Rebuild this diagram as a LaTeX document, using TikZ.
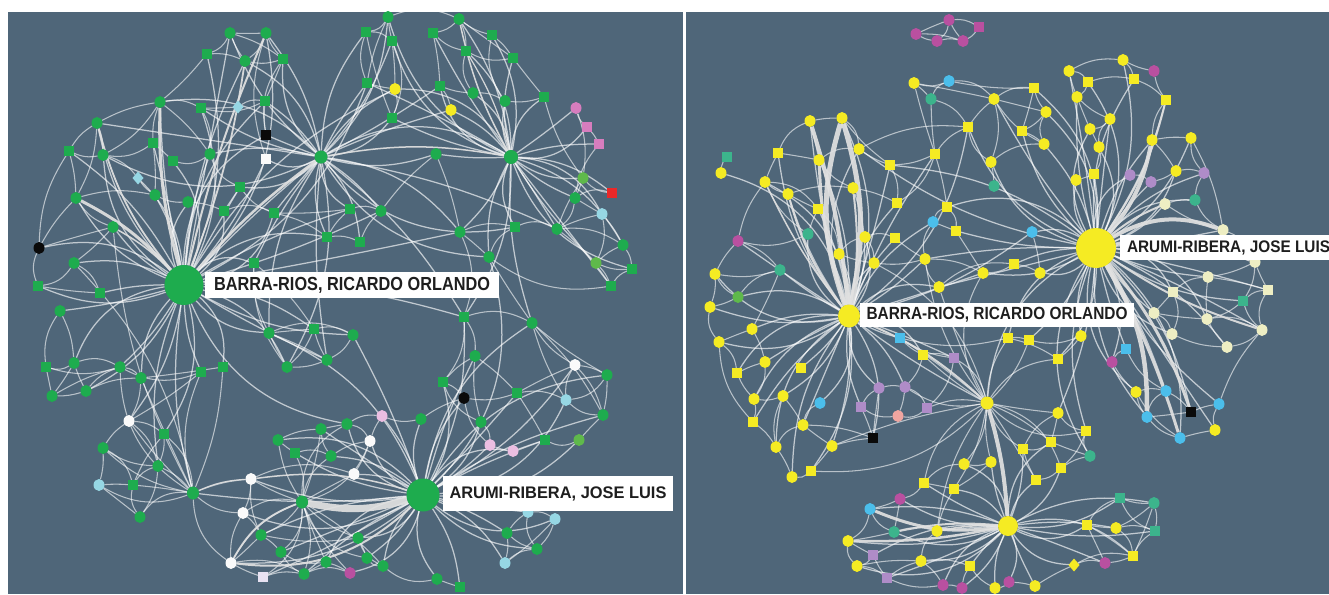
\documentclass[tikz,border=0pt]{standalone}
\usepackage{fontspec}
\usepackage{graphicx}
\newfontfamily\labfont{Liberation Sans}
\usetikzlibrary{shapes.geometric}
\definecolor{bgc}{RGB}{79,102,121}
\definecolor{Gn}{RGB}{30,172,78}
\definecolor{LGn}{RGB}{95,185,75}
\definecolor{Yl}{RGB}{245,235,35}
\definecolor{Mg}{RGB}{185,80,160}
\definecolor{Lv}{RGB}{175,140,200}
\definecolor{Cy}{RGB}{75,190,235}
\definecolor{PCy}{RGB}{150,215,228}
\definecolor{Tl}{RGB}{60,180,140}
\definecolor{Pl}{RGB}{238,238,195}
\definecolor{Pk}{RGB}{215,125,190}
\definecolor{LPk}{RGB}{235,190,225}
\definecolor{Rd}{RGB}{235,40,40}
\definecolor{Sl}{RGB}{240,165,160}
\definecolor{Wt}{RGB}{250,250,250}
\definecolor{Bk}{RGB}{10,10,10}
\definecolor{thickc}{RGB}{225,225,225}
\definecolor{txt}{RGB}{30,30,30}
\pgfdeclarelayer{back}
\pgfdeclarelayer{edges}
\pgfsetlayers{back,edges,main}
\tikzset{
  nd/.style={inner sep=0pt, outer sep=0pt, draw=none},
  ci/.style={nd, ellipse, minimum width=11pt, minimum height=12pt},
  sq/.style={nd, rectangle, minimum width=9.5pt, minimum height=9.5pt},
  dm/.style={nd, diamond, minimum width=11pt, minimum height=13pt},
  ngc/.style={ci, fill=Gn}, ngs/.style={sq, fill=Gn}, nlg/.style={ci, fill=LGn},
  nyc/.style={ci, fill=Yl}, nys/.style={sq, fill=Yl}, nyd/.style={dm, fill=Yl},
  nmc/.style={ci, fill=Mg}, nms/.style={sq, fill=Mg},
  nlc/.style={ci, fill=Lv}, nls/.style={sq, fill=Lv},
  ncc/.style={ci, fill=Cy}, ncs/.style={sq, fill=Cy},
  npcc/.style={ci, fill=PCy}, npcd/.style={dm, fill=PCy},
  ntc/.style={ci, fill=Tl}, nts/.style={sq, fill=Tl},
  nplc/.style={ci, fill=Pl}, npls/.style={sq, fill=Pl},
  npkc/.style={ci, fill=Pk}, npks/.style={sq, fill=Pk},
  nlpk/.style={ci, fill=LPk},
  nrs/.style={sq, fill=Rd}, nsc/.style={ci, fill=Sl},
  nwc/.style={ci, fill=Wt}, nws/.style={sq, fill=Wt}, nwl/.style={sq, fill={rgb,255:red,232;green,226;blue,242}},
  nkc/.style={ci, fill=Bk}, nks/.style={sq, fill=Bk},
  hub/.style={nd, ellipse},
  lnk/.style={draw=white, draw opacity=0.6, line width=1.05pt},
  lnkh/.style={draw=white, draw opacity=0.65, line width=1.25pt},
  thk/.style={draw=thickc, draw opacity=0.92, line width=#1},
  lab/.style={nd, fill=white, anchor=west, text=txt, font=\labfont\bfseries},
}
\newcommand\myfan[3]{\foreach \tg [count=\k] in {#3}{\pgfmathtruncatemacro\bb{mod(\k*37,64)-32}\draw[#2] (#1) to[bend left=\bb] (\tg);}}
\newcommand\mypairs[2]{\foreach \pa/\pb [count=\k] in {#2}{\pgfmathtruncatemacro\bb{mod(\k*23,50)-25}\draw[#1] (\pa) to[bend left=\bb] (\pb);}}
\begin{document}
\begin{tikzpicture}[x=1pt,y=-1pt]
\useasboundingbox (0,0) rectangle (1329,594);
\begin{pgfonlayer}{back}
\fill[white] (0,0) rectangle (1329,594);
\fill[bgc] (8,12) rectangle (683,594);
\fill[bgc] (685.5,12) rectangle (1329,594);
\end{pgfonlayer}
% ---------- left panel nodes ----------
\foreach \n/\x/\y/\s in {
p1/388/17/ngc, p2/366/32/ngs, p3/392/41/ngs, p4/459/19/ngc, p5/433/33/ngs, p6/492/35/ngs, p7/466/51/ngs, p8/513/58/ngs,
p9/230/33/ngc, p10/266/33/ngc, p11/207/54/ngs, p12/245/61/ngc, p13/283/59/ngs, p14/367/83/ngs, p15/395/89/nyc, p16/440/86/ngs,
p17/473/93/ngc, p18/505/101/ngc, p19/451/110/nyc, p20/392/118/ngs, p21/544/97/ngs, p22/576/108/npkc, p23/587/127/npks, p24/599/144/npks,
p25/160/102/ngc, p26/201/108/ngs, p27/238/107/npcd, p28/265/101/ngs, p29/97/123/ngc, p30/266/135/nks, p31/266/159/nws, p32/69/151/ngs,
p33/103/155/ngc, p34/153/143/ngs, p35/173/161/ngs, p36/210/154/ngc, p37/436/154/ngc, p38/138/178/npcd, p39/76/198/ngc, p40/155/195/ngc,
p41/188/202/ngc, p42/240/187/ngs, p43/224/211/ngs, p44/274/213/ngs, p45/350/209/ngs, p46/381/211/ngc, p47/327/237/ngs, p48/360/242/ngs,
p49/583/178/nlg, p50/612/193/nrs, p51/575/198/ngc, p52/602/214/npcc, p53/557/229/ngc, p54/460/232/ngc, p55/515/227/ngs, p56/489/257/ngc,
p57/623/245/ngc, p58/596/263/nlg, p59/632/269/ngs, p60/611/286/ngs, p61/39/248/nkc, p62/113/227/ngc, p63/74/263/ngc, p64/38/286/ngs,
p65/100/293/ngs, p66/254/263/ngs, p67/60/311/ngc, p68/269/333/ngc, p69/314/329/ngs, p70/353/335/ngc, p71/287/367/ngc, p72/327/360/ngc,
p73/464/317/ngs, p74/532/323/ngc, p75/46/367/ngs, p76/74/363/ngc, p77/120/367/ngc, p78/141/378/ngc, p79/52/396/ngc, p80/86/391/ngc,
p81/201/372/ngs, p82/223/367/ngs, p83/475/356/ngc, p84/443/382/ngs, p85/464/398/nkc, p86/575/365/nwc, p87/607/375/ngc, p88/517/393/ngs,
p89/566/400/npcc, p90/603/415/ngc, p91/481/422/ngc, p92/421/419/ngc, p93/382/416/nlpk, p94/129/421/nwc, p95/164/434/ngs, p96/103/448/ngc,
p97/158/466/ngc, p98/99/485/npcc, p99/133/485/ngs, p100/140/517/ngc, p101/347/424/ngc, p102/321/429/ngc, p103/278/440/ngc, p104/295/453/ngs,
p105/331/456/ngc, p106/370/441/nwc, p107/490/445/nlpk, p108/513/451/nlpk, p109/545/440/ngs, p110/579/440/nlg, p111/251/479/nwc, p112/354/474/nwc,
p113/243/513/nwc, p114/528/512/npcc, p115/555/519/npcc, p116/507/533/ngc, p117/537/549/ngc, p118/505/563/npcc, p119/261/535/ngc, p120/358/538/ngc,
p121/281/552/ngc, p122/326/562/ngc, p123/367/558/ngc, p124/383/566/ngc, p125/231/563/nwc, p126/304/574/ngc, p127/350/573/nmc, p128/263/577/nwl,
p129/437/579/ngc, p130/460/587/ngs}
{\node[\s] (\n) at (\x,\y) {};}
\node[hub, fill=Gn, minimum width=39pt, minimum height=40pt] (lB) at (184,285) {};
\node[hub, fill=Gn, minimum width=33pt, minimum height=33pt] (lA) at (423,495) {};
\node[hub, fill=Gn, minimum width=13pt, minimum height=13pt] (lM1) at (321,157) {};
\node[hub, fill=Gn, minimum width=14pt, minimum height=14pt] (lM2) at (511,157) {};
\node[hub, fill=Gn, minimum width=12pt, minimum height=13pt] (lH3) at (193,493) {};
\node[hub, fill=Gn, minimum width=12pt, minimum height=13pt] (lH4) at (302,502) {};
% ---------- right panel nodes ----------
\foreach \n/\x/\y/\s in {
q1/949/20/nmc, q2/916/34/nmc, q3/937/41/nmc, q4/963/41/nmc, q5/979/27/nms, q6/914/83/nyc, q7/949/81/ncc, q8/931/99/ntc,
q9/994/99/nyc, q10/1034/88/nys, q11/1046/112/nyc, q12/968/127/nys, q13/1022/131/nys, q14/1044/144/nyc, q15/935/154/nys, q16/991/162/nyc,
q17/994/186/ntc, q18/1069/71/nyc, q19/1088/82/nys, q20/1077/97/nyc, q21/1123/60/nyc, q22/1154/71/nmc, q23/1134/79/nys, q24/1166/100/nys,
q25/1090/129/nyc, q26/1110/119/nyc, q27/1099/147/nyc, q28/1152/140/nyc, q29/1191/138/nyc, q30/1076/180/nyc, q31/1094/174/nys, q32/1130/175/nlc,
q33/1151/182/nlc, q34/1176/171/nyc, q35/1204/173/nlc, q36/1165/204/nplc, q37/1195/200/ntc, q38/1223/230/nplc, q39/727/157/nts, q40/721/173/nyc,
q41/810/121/nyc, q42/842/118/nyc, q43/778/153/nys, q44/819/160/nyc, q45/859/149/nyc, q46/890/165/nys, q47/765/182/nyc, q48/788/194/nyc,
q49/853/188/nyc, q50/897/203/nys, q51/818/209/nys, q52/947/207/nys, q53/933/222/ncc, q54/956/231/nys, q55/1032/232/ncc, q56/808/234/ntc,
q57/738/241/nmc, q58/865/237/nyc, q59/895/238/nys, q60/839/254/nyc, q61/874/263/nyc, q62/925/259/nyc, q63/983/273/nyc, q64/1014/264/nys,
q65/1040/273/nyc, q66/715/274/nyc, q67/780/270/ntc, q68/738/297/nlg, q69/939/287/nyc, q70/710/307/nyc, q71/752/329/nyc, q72/719/342/nyc,
q73/765/362/nyc, q74/737/373/nys, q75/801/368/nys, q76/754/399/nyc, q77/783/396/nyc, q78/753/422/nys, q79/820/403/ncc, q80/803/425/nyc,
q81/776/447/nyc, q82/832/446/nyc, q83/792/477/nyc, q84/811/471/nys, q85/900/338/ncs, q86/923/355/nys, q87/954/358/nls, q88/879/388/nlc,
q89/905/387/nlc, q90/861/407/nls, q91/898/416/nsc, q92/927/408/nls, q93/873/438/nks, q94/1008/338/nys, q95/1029/340/nys, q96/1081/336/nyc,
q97/1058/359/nys, q98/1058/413/nyc, q99/1086/431/nys, q100/1051/442/nys, q101/1090/456/ntc, q102/1023/449/nys, q103/964/464/nyc, q104/991/462/nyc,
q105/1061/468/nys, q106/1036/480/nys, q107/924/483/nys, q108/954/489/nys, q109/900/499/nmc, q110/870/509/ncc, q111/894/532/ntc, q112/937/531/nyc,
q113/1087/525/nys, q114/1116/528/nyc, q115/1120/498/nts, q116/1154/503/ntc, q117/1155/531/nts, q118/1133/556/nys, q119/1105/563/nmc, q120/1074/565/nyd,
q121/848/541/nyc, q122/873/555/nls, q123/921/561/nyc, q124/970/566/nys, q125/857/566/nyc, q126/887/578/nls, q127/943/585/nmc, q128/962/588/nmc,
q129/995/588/nyc, q130/1009/582/nmc, q131/1035/586/nyc, q132/1154/313/nplc, q133/1207/319/nplc, q134/1262/330/nplc, q135/1172/334/nplc, q136/1227/347/nplc,
q137/1243/301/nts, q138/1112/362/nmc, q139/1126/349/ncs, q140/1136/392/nyc, q141/1166/391/ncc, q142/1147/417/ncc, q143/1191/412/nks, q144/1219/404/ncc,
q145/1180/438/ncc, q146/1215/430/nyc, q147/1255/262/nplc, q148/1208/277/nplc, q149/1173/292/npls, q150/1268/290/npls}
{\node[\s] (\n) at (\x,\y) {};}
\node[hub, fill=Yl, minimum width=40pt, minimum height=40pt] (rA) at (1096,248) {};
\node[hub, fill=Yl, minimum width=22pt, minimum height=23pt] (rB) at (849,316) {};
\node[hub, fill=Yl, minimum width=13pt, minimum height=13pt] (rC) at (987,403) {};
\node[hub, fill=Yl, minimum width=20pt, minimum height=20pt] (rD) at (1008,526) {};
% ---------- edges ----------
\begin{pgfonlayer}{edges}
\begin{scope}
\clip (8,12) rectangle (683,594);
\myfan{lB}{lnkh}{p25,p26,p29,p32,p33,p34,p35,p36,p38,p39,p40,p41,p42,p43,p62,p63,p64,p65,p66,p67,p68,p69,p70,p71,p72,p76,p77,p78,p80,p81,p82,p9,p10,p12,p11,p28,p31,p30,lM1,p61,p94,p97,p95,p46,p44,p45,p14,p15,lH3,p47,p54,p101,p73}
\myfan{lM1}{lnkh}{p14,p20,p15,p36,p42,p44,p45,p46,p47,p48,p28,p31,p30,p25,p26,p37,p54,p66,lM2,p19,p12,p9,p10,p13,p16,p55,p53,p1,p2,p3,p33,p29,p56,p73,p68,p71,p72}
\myfan{lM2}{lnkh}{p37,p17,p18,p19,p21,p22,p23,p24,p49,p50,p51,p52,p53,p55,p54,p56,p57,p58,p16,p5,p7,p8,p4,p1,p14,p15,p20,p6,p73,p74,p3,p60,p59}
\myfan{lA}{lnkh}{p83,p84,p85,p86,p87,p88,p89,p90,p91,p92,p93,p101,p102,p103,p104,p105,p106,p107,p108,p109,p110,p111,p112,p113,p114,p115,p116,p117,p118,p119,p120,p121,p122,p123,p124,p125,p126,p127,p128,p129,p130,p73,p74,p70,p56,lH3,p68}
\myfan{lH3}{lnk}{p94,p95,p96,p97,p98,p99,p100,p111,p113,p81,p82,p77,p78,p125,p62,p63}
\myfan{lH4}{lnk}{p111,p113,p119,p120,p121,p122,p123,p124,p125,p126,p127,p128,p112,p106,p103,p104,p105,p102,p101}
\mypairs{lnk}{p9/p10, p9/p11, p9/p12, p10/p12, p10/p13, p11/p12, p12/p13, p9/p13, p10/p31, p11/p25, p13/p30, p13/p28,
p1/p2, p1/p3, p2/p3, p1/p14, p4/p5, p4/p6, p4/p7, p5/p7, p6/p8, p7/p8, p5/p16, p6/p18, p4/p8, p3/p20, p14/p15, p15/p20, p16/p17, p17/p18, p19/p16, p21/p18, p22/p23, p23/p24, p2/p14, p3/p15, p7/p17, p8/p21, p1/p4, p2/p20,
p25/p26, p25/p29, p25/p33, p29/p32, p29/p33, p32/p33, p32/p39, p33/p34, p34/p35, p35/p36, p26/p27, p27/p28, p28/p30, p33/p38, p38/p40, p39/p40, p40/p41, p41/p43, p39/p62, p62/p63, p61/p64, p61/p62, p63/p64, p64/p65, p63/p65, p39/p61, p26/p36, p25/p34, p29/p39, p32/p61, p25/p36, p26/p28, p34/p40, p36/p42,
p42/p43, p43/p44, p44/p45, p45/p46, p45/p47, p47/p48, p46/p48, p44/p47, p42/p44, p46/p37,
p49/p50, p49/p51, p50/p51, p51/p52, p51/p53, p52/p53, p53/p57, p57/p58, p57/p59, p58/p59, p58/p60, p59/p60, p52/p57, p55/p56, p54/p56, p53/p55, p56/p74, p54/p73, p49/p53, p52/p58, p21/p49, p22/p49, p24/p51, p53/p60, p55/p54, p37/p54, p56/p60,
p68/p69, p68/p70, p68/p71, p69/p70, p69/p72, p70/p72, p71/p72, p69/p71, p66/p68, p66/p69, p66/p71, p68/p72,
p75/p76, p75/p79, p76/p77, p76/p80, p77/p78, p79/p80, p80/p77, p78/p80, p67/p76, p75/p77, p79/p77, p67/p75, p76/p79, p77/p81, p78/p82,
p73/p74, p74/p87, p73/p83, p83/p84, p84/p85, p85/p88, p86/p87, p86/p89, p87/p90, p89/p90, p88/p109, p109/p110, p90/p110, p91/p107, p107/p108, p88/p89, p83/p91, p86/p90, p74/p86, p74/p90, p85/p107, p83/p88, p84/p91, p108/p109, p87/p89, p86/p88, p73/p84, p74/p89,
p94/p95, p94/p96, p95/p97, p96/p97, p96/p98, p97/p99, p98/p99, p99/p100, p98/p100, p96/p99, p94/p81, p94/p97, p95/p99, p97/p100, p94/p78,
p111/p113, p113/p125, p119/p121, p121/p122, p120/p123, p123/p124, p122/p126, p126/p127, p125/p128, p125/p126, p119/p120, p128/p126, p111/p119, p113/p119, p121/p126, p122/p127, p120/p124, p119/p125, p124/p129, p129/p130, p111/p112, p112/p106,
p114/p115, p114/p116, p115/p117, p116/p117, p116/p118, p117/p118, p115/p118, p114/p117,
p102/p101, p101/p106, p103/p104, p104/p105, p93/p106, p92/p93, p102/p103, p105/p106, p102/p105, p92/p85, p93/p101}
\draw[thk=3pt] (lB) to[bend left=8] (p25);
\draw[thk=3pt] (lB) to[bend right=10] (p39);
\draw[thk=2.5pt] (lB) to[bend left=6] (lM1);
\draw[thk=2pt] (lB) to[bend left=5] (p10);
\draw[thk=1.8pt] (lB) to[bend right=6] (p12);
\draw[thk=1.8pt] (lB) to[bend left=12] (p29);
\draw[thk=1.5pt] (lB) to[bend right=8] (p62);
\draw[thk=1.5pt] (lM1) to[bend left=10] (lM2);
\draw[thk=1.5pt] (lM2) to[bend left=8] (p4);
\draw[thk=1.2pt] (lM2) to[bend right=8] (p7);
\draw[thk=7pt] (lH4) to[bend right=14] (lA);
\draw[thk=2pt] (lA) to[bend left=25] (p125);
\draw[thk=1.8pt] (lH4) to[bend right=20] (p125);
\draw[thk=1.5pt] (lA) to[bend right=12] (p111);
\draw[thk=1.2pt] (lH3) to[bend left=10] (p111);
\end{scope}
\begin{scope}
\clip (685.5,12) rectangle (1329,594);
\myfan{rB}{lnkh}{q41,q42,q43,q44,q45,q46,q47,q48,q49,q50,q51,q56,q57,q58,q59,q60,q61,q62,q66,q67,q68,q70,q71,q72,q73,q74,q75,q76,q77,q78,q79,q80,q81,q82,q83,q84,q85,q86,q87,q88,q89,q90,q93,rC,q40,q15,q12,q53,q55,q69,q63}
\myfan{rA}{lnkh}{q9,q11,q13,q14,q16,q18,q19,q20,q21,q23,q24,q25,q26,q27,q28,q29,q30,q31,q32,q33,q34,q35,q36,q37,q38,q52,q54,q55,q63,q64,q65,q69,q94,q95,q96,q97,q132,q133,q134,q135,q136,q137,q138,q139,q140,q141,q142,q143,q144,q145,q146,rC,q98,q99,q147,q148,q149,q150,q10,q45,q46,q12,q62,q101}
\myfan{rC}{lnk}{q86,q87,q94,q95,q97,q98,q99,q100,q102,q103,q104,q105,q106,q107,q108,q92,q89,q82,q63,q69,q61,q62,q112,q84,q85}
\myfan{rD}{lnkh}{q107,q108,q109,q110,q111,q112,q113,q114,q115,q116,q117,q118,q119,q120,q121,q122,q123,q124,q125,q126,q127,q128,q129,q130,q131,q103,q104,q105,q106,q102,q100}
\mypairs{lnk}{q1/q2,q1/q3,q1/q4,q1/q5,q2/q3,q3/q4,q4/q5,q2/q4,
q6/q7,q6/q8,q7/q8,q6/q9,q7/q9,q8/q15,q9/q10,q9/q12,q9/q16,q10/q11,q11/q13,q12/q15,q13/q14,q14/q16,q16/q17,q12/q16,q9/q11,q18/q19,q18/q20,q19/q20,q21/q22,q21/q23,q22/q24,q23/q24,q24/q28,q28/q29,q25/q26,q25/q27,q26/q27,q20/q25,q27/q31,q30/q31,q32/q33,q33/q34,q34/q35,q35/q37,q36/q37,q37/q38,q28/q34,q29/q35,q10/q13,q11/q14,q6/q15,q8/q12,q7/q10,q18/q21,q20/q26,q19/q23,q9/q14,q29/q38,
q39/q40,q41/q42,q41/q43,q41/q44,q42/q45,q43/q47,q44/q45,q45/q46,q46/q50,q47/q48,q48/q49,q44/q49,q49/q50,q50/q15,q15/q52,q52/q53,q53/q54,q52/q54,q51/q56,q56/q57,q57/q66,q57/q67,q66/q67,q66/q70,q66/q68,q68/q70,q67/q68,q67/q71,q70/q72,q71/q72,q72/q74,q73/q74,q73/q76,q74/q76,q76/q78,q76/q77,q78/q81,q77/q81,q81/q83,q83/q84,q82/q84,q79/q80,q80/q82,q58/q59,q60/q61,q58/q61,q61/q62,q62/q63,q63/q64,q64/q65,q62/q69,q55/q65,q53/q62,q43/q44,q47/q51,q48/q51,q51/q60,q42/q46,q45/q12,q46/q15,q57/q47,q47/q56,q71/q73,q72/q78,q77/q80,q80/q81,q54/q63,q69/q64,q59/q62,q60/q58,
q85/q86,q86/q87,q85/q87,q88/q89,q88/q90,q89/q91,q90/q91,q90/q93,q91/q92,q88/q93,q89/q92,q93/q82,q87/q92,q93/q80,q86/q89,q85/q94,
q94/q95,q95/q96,q96/q97,q98/q99,q98/q100,q99/q101,q100/q101,q100/q102,q102/q106,q105/q106,q101/q105,q99/q105,q103/q104,q94/q97,q98/q102,q104/q108,q103/q107,q107/q108,
q132/q135,q132/q133,q133/q134,q133/q136,q134/q136,q135/q136,q137/q133,q137/q134,q147/q148,q148/q149,q148/q150,q150/q134,q149/q132,q38/q147,q147/q150,q138/q139,q138/q140,q140/q141,q140/q142,q141/q143,q142/q145,q143/q144,q144/q146,q145/q146,q141/q142,q142/q143,q149/q135,q148/q133,q137/q150,q36/q38,q147/q137,q140/q145,q144/q134,q139/q141,
q109/q110,q110/q111,q111/q121,q121/q125,q121/q122,q122/q125,q122/q126,q125/q126,q123/q126,q123/q124,q124/q129,q127/q128,q129/q130,q130/q131,q112/q123,q109/q111,q110/q121,q113/q114,q113/q115,q114/q116,q114/q117,q115/q116,q116/q117,q117/q118,q118/q119,q119/q120,q113/q118,q115/q117,q113/q119,q114/q118,q120/q131,q107/q109,q108/q112,q111/q112,q124/q128,q123/q127,q126/q127,q125/q123,q118/q120,q116/q118}
\draw[thk=5pt] (rB) to[bend left=18] (q42);
\draw[thk=5pt] (rB) to[bend right=14] (q42);
\draw[thk=4pt] (rB) to[bend right=6] (q41);
\draw[thk=3pt] (rB) to[bend left=8] (q44);
\draw[thk=2pt] (rB) to[bend right=8] (q49);
\draw[thk=2pt] (rB) to[bend left=10] (q48);
\draw[thk=2pt] (rB) to[bend right=10] (q60);
\draw[thk=1.5pt] (rB) to[bend left=6] (q47);
\draw[thk=2pt] (rB) to[bend left=10] (rC);
\draw[thk=4pt] (rA) to[bend right=14] (q28);
\draw[thk=2pt] (rA) to[bend right=10] (q24);
\draw[thk=2pt] (rA) to[bend left=8] (q36);
\draw[thk=4pt] (rA) to[bend left=25] (q38);
\draw[thk=3pt] (rA) to[bend left=15] (q147);
\draw[thk=4.5pt] (rA) to[bend left=16] (q142);
\draw[thk=3pt] (rA) to[bend left=10] (q143);
\draw[thk=3pt] (rA) to[bend left=6] (q145);
\draw[thk=2pt] (rA) to[bend right=8] (q134);
\draw[thk=4pt] (rC) to[bend left=6] (rD);
\draw[thk=3pt] (rD) to[bend left=15] (q110);
\draw[thk=2.5pt] (rD) to[bend left=6] (q121);
\draw[thk=2pt] (rD) to[bend right=8] (q111);
\draw[thk=1.5pt] (rD) to[bend right=6] (q112);
\end{scope}
\end{pgfonlayer}
% ---------- labels ----------
\node[lab, inner xsep=9pt, minimum height=26pt] (tB) at (205,285) {\resizebox{276pt}{13.2pt}{BARRA-RIOS, RICARDO ORLANDO}};
\node[lab, inner xsep=6.5pt, minimum height=35pt] (tA) at (443,493.5) {\resizebox{217pt}{11.7pt}{ARUMI-RIBERA, JOSE LUIS}};
\node[lab, inner xsep=6.5pt, minimum height=24pt] (tRB) at (860,315) {\resizebox{261pt}{12.3pt}{BARRA-RIOS, RICARDO ORLANDO}};
\node[lab, inner xsep=7pt, minimum height=25pt] (tRA) at (1120,247.5) {\resizebox{203pt}{11.7pt}{ARUMI-RIBERA, JOSE LUIS}};
\end{tikzpicture}
\end{document}
